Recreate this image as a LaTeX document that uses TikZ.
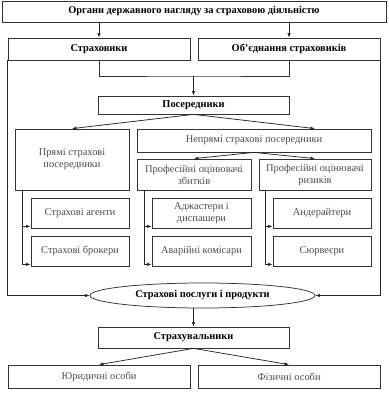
\documentclass[tikz,border=0pt]{standalone}
\usepackage{fontspec}
\setmainfont{Liberation Serif}
\usetikzlibrary{arrows.meta,shapes.geometric}
\tikzset{
  scheme/.style={x=1pt, y=-1pt, line width=0.75pt, draw=black!80},
  mbox/.style={draw=black!80, rectangle, inner sep=0pt,
    font=\bfseries\fontsize{10.4}{12}\selectfont, text=black},
  sbox/.style={draw=black!80, rectangle, inner sep=0pt, align=center,
    font=\fontsize{10.4}{12}\selectfont, text=black!70},
  link/.style={-{Latex[length=4.5pt,width=3.4pt]}, draw=black!85},
}

\begin{document}
\begin{tikzpicture}[scheme]
  \useasboundingbox (0,0) rectangle (388,396);
  % supervision, insurers and their unions
  \node[mbox, minimum width=384pt, minimum height=21pt] (supervise) at (194,11.5)
    {Органи державного нагляду за страховою діяльністю};
  \node[mbox, minimum width=182pt, minimum height=22pt] (insurers) at (99,49) {Страховики};
  \node[mbox, minimum width=182pt, minimum height=22pt] (unions) at (289,49) {Об’єднання страховиків};
  \draw[link] (supervise.south -| insurers) -- (insurers.north);
  \draw[link] (supervise.south -| unions) -- (unions.north);
  % intermediaries
  \node[mbox, minimum width=191pt, minimum height=18pt] (interm) at (193.5,105) {Посередники};
  \coordinate (join) at (193.5,76);
  \draw (insurers.south) |- (join) -| (unions.south);
  \draw[link] (join) -- (interm.north);
  \node[sbox, minimum width=114pt, minimum height=61pt] (direct) at (72,159.5)
    {Прямі страхові\\посередники};
  \node[sbox, minimum width=234pt, minimum height=23pt] (indirect) at (254,140.5)
    {Непрямі страхові посередники};
  \node[sbox, minimum width=114pt, minimum height=31pt] (loss) at (194,174.5)
    {Професійні оцінювачі\\збитків};
  \node[sbox, minimum width=112pt, minimum height=31pt] (risk) at (315,174.5)
    {Професійні оцінювачі\\ризиків};
  \draw[link] (interm.south) -- (direct.north);
  \draw[link] (interm.south) -- (indirect.north -| risk.north);
  \draw[link] (indirect.south) -- (loss.north);
  \draw[link] (indirect.south) -- (risk.north);
  % the lower boxes of each column
  \node[sbox, minimum width=98pt, minimum height=30pt] (agents) at (80,213) {Страхові агенти};
  \node[sbox, minimum width=98pt, minimum height=30pt] (brokers) at (80,251) {Страхові брокери};
  \node[sbox, minimum width=99pt, minimum height=30pt] (adjusters) at (201.5,213)
    {Аджастери і\\диспашери};
  \node[sbox, minimum width=99pt, minimum height=30pt] (commissars) at (201.5,251)
    {Аварійні комісари};
  \node[sbox, minimum width=98pt, minimum height=30pt] (underwriters) at (322,213) {Андерайтери};
  \node[sbox, minimum width=98pt, minimum height=30pt] (surveyors) at (322,251) {Сюрвеєри};
  \draw[link] ([xshift=8pt]direct.south west) |- ([yshift=2pt]agents.south west);
  \draw[link] ([xshift=8pt]direct.south west) |- ([yshift=2pt]brokers.south west);
  \draw[link] ([xshift=8pt]loss.south west) |- ([yshift=2pt]adjusters.south west);
  \draw[link] ([xshift=8pt]loss.south west) |- ([yshift=2pt]commissars.south west);
  \draw[link] ([xshift=7pt]risk.south west) |- ([yshift=2pt]underwriters.south west);
  \draw[link] ([xshift=7pt]risk.south west) |- ([yshift=2pt]surveyors.south west);
  % services and policyholders
  \node[mbox, ellipse, minimum width=225pt, minimum height=25pt] (services) at (202.5,295.5)
    {Страхові послуги і продукти};
  \draw[link] (insurers.south west) |- (services.west);
  \draw[link] (unions.south east) |- (services.east);
  \node[mbox, minimum width=191pt, minimum height=21pt] (insured) at (193.5,337.5) {Страхувальники};
  \draw[link] (insured.north |- services.south) -- (insured.north);
  \node[sbox, minimum width=182pt, minimum height=23pt] (legal) at (99,376.5) {Юридичні особи};
  \node[sbox, minimum width=182pt, minimum height=23pt] (natural) at (289,376.5) {Фізичні особи};
  \draw[link] (insured.south) -- (legal.north);
  \draw[link] (insured.south) -- (natural.north);
\end{tikzpicture}
\end{document}
